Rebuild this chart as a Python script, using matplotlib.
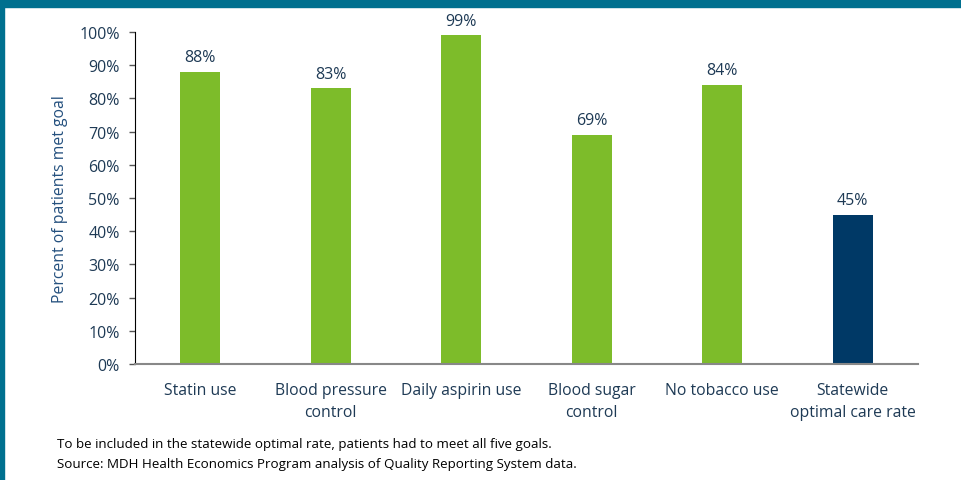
import numpy as np
import matplotlib.pyplot as plt
from matplotlib.patches import Rectangle

# Goals and share of patients who met each one
goals = ['Statin use', 'Blood pressure\ncontrol', 'Daily aspirin use',
         'Blood sugar\ncontrol', 'No tobacco use', 'Statewide\noptimal care rate']
pct_met = [88, 83, 99, 69, 84, 45]
bar_colors = ['#7dbc2a'] * 5 + ['#003966']
y_ticks = [0, 10, 20, 30, 40, 50, 60, 70, 80, 90, 100]

plt.rcParams['font.family'] = ['Open Sans', 'DejaVu Sans']
text_col = '#1e3a55'

fig = plt.figure(figsize=(9.62, 4.81), dpi=100)
fig.patch.set_facecolor('white')

# teal frame along the top and left edges
fig.add_artist(Rectangle((0, 1 - 8 / 481), 1, 8 / 481, transform=fig.transFigure,
                         color='#00708f', zorder=0))
fig.add_artist(Rectangle((0, 0), 4 / 962, 1, transform=fig.transFigure,
                         color='#00708f', zorder=0))

ax = fig.add_axes([135 / 962, 1 - 365 / 481, (918 - 135) / 962, (365 - 33) / 481])
x = np.arange(len(goals))
bars = ax.bar(x, pct_met, width=0.31, color=bar_colors)
for b, v in zip(bars, pct_met):
    ax.text(b.get_x() + b.get_width() / 2, v + 2.0, f'{v}%', ha='center', va='bottom',
            fontsize=11.5, color=text_col)

ax.set_xlim(-0.5, len(goals) - 0.5)
ax.set_ylim(0, 100)
ax.set_yticks(y_ticks)
ax.set_yticklabels([f'{t}%' for t in y_ticks])
ax.set_xticks(x)
ax.set_xticklabels(goals, linespacing=1.5)
ax.tick_params(axis='x', length=0, pad=13, labelsize=11.3, labelcolor=text_col)
ax.tick_params(axis='y', length=4, width=1, color='#555555', pad=7,
               labelsize=11.5, labelcolor=text_col)
for side in ['top', 'right']:
    ax.spines[side].set_visible(False)
ax.spines['left'].set_color('black')
ax.spines['bottom'].set_color('#888888')
ax.spines['bottom'].set_linewidth(1.5)
ax.set_ylabel('Percent of patients met goal', fontsize=11.3, color='#24507e', labelpad=8)

fig.text(57 / 962, 1 - 445 / 481, 'To be included in the statewide optimal rate, patients had to meet all five goals.',
         fontsize=9.6, color='black', va='center')
fig.text(57 / 962, 1 - 465 / 481, 'Source: MDH Health Economics Program analysis of Quality Reporting System data.',
         fontsize=9.6, color='black', va='center')

fig.savefig('out.png', dpi=100)
